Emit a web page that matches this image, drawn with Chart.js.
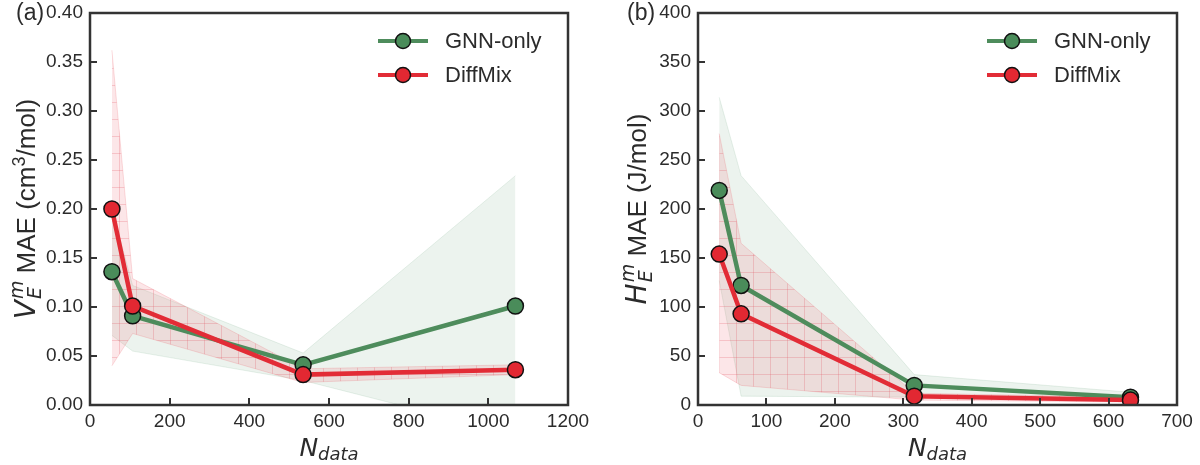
<!DOCTYPE html>
<html>
<head>
<meta charset="utf-8">
<script src="https://cdn.jsdelivr.net/npm/chart.js@4.4.1/dist/chart.umd.min.js"></script>
<style>
  html,body{margin:0;padding:0;background:#fff;}
  #wrap{position:relative;width:1200px;height:465px;}
  canvas{position:absolute;top:0;}
</style>
</head>
<body>
<div id="wrap">
  <canvas id="ca" width="600" height="465" style="left:0"></canvas>
  <canvas id="cb" width="600" height="465" style="left:600px"></canvas>
</div>
<script>
// ---------- Panel (a) data ----------
const xA      = [55, 107, 535, 1068];
const gnnA    = [0.136, 0.091, 0.041, 0.101];
const diffA   = [0.200, 0.101, 0.031, 0.036];
const gnnAHi  = [0.200, 0.122, 0.053, 0.234];
const gnnALo  = [0.071, 0.055, 0.025, -0.030];
const diffAHi = [0.362, 0.129, 0.037, 0.041];
const diffALo = [0.040, 0.073, 0.023, 0.031];

// ---------- Panel (b) data ----------
const xB      = [31, 63, 316, 632];
const gnnB    = [219, 122, 20, 8];
const diffB   = [154, 93, 9, 5];
const gnnBHi  = [314, 234, 31, 13];
const gnnBLo  = [127, 9, 8, 4];
const diffBHi = [277, 165, 12, 8];
const diffBLo = [33, 20, 5, 3];

const seriesNames = ['GNN-only', 'DiffMix'];
const panelLabels = ['(a)', '(b)'];

const GREEN = 'rgb(78,140,92)';
const GREEN_PT = 'rgb(74,140,90)';
const RED = 'rgb(226,44,54)';
const RED_PT = 'rgb(226,40,50)';
const TXT = '#2b2b2b';
const SANS = '"Liberation Sans", Arial, sans-serif';
const MATH = '"DejaVu Sans", sans-serif';

function pts(xs, ys){ return xs.map((x,i)=>({x:x, y:ys[i]})); }

function hatchPattern(ctx){
  const s = 17;
  const c = document.createElement('canvas'); c.width = s; c.height = s;
  const g = c.getContext('2d');
  g.fillStyle = 'rgba(238,90,100,0.15)';
  g.fillRect(0,0,s,s);
  g.strokeStyle = 'rgba(225,80,90,0.24)';
  g.lineWidth = 1;
  g.beginPath();
  g.moveTo(0,0.5); g.lineTo(s,0.5);
  g.moveTo(0.5,0); g.lineTo(0.5,s);
  g.stroke();
  return ctx.createPattern(c, 'repeat');
}

function drawRich(ctx, items, cx, cy, rot){
  ctx.save();
  ctx.translate(cx, cy);
  ctx.rotate(rot);
  ctx.textAlign = 'left';
  ctx.textBaseline = 'alphabetic';
  const widths = items.map(it=>{
    const parts = it.stack || [it];
    return Math.max(...parts.map(p=>{ ctx.font = p.f; return ctx.measureText(p.t).width; })) + (it.gap||0);
  });
  const total = widths.reduce((a,b)=>a+b,0);
  let x = -total/2;
  items.forEach((it,i)=>{
    const parts = it.stack || [it];
    parts.forEach(p=>{ ctx.font = p.f; ctx.fillStyle = TXT; ctx.fillText(p.t, x + (p.dx||0), p.dy||0); });
    x += widths[i];
  });
  ctx.restore();
}

function decorPlugin(cfg){
  return {
    id: 'decor',
    afterDraw(chart){
      const ctx = chart.ctx;
      const a = chart.chartArea;
      const xs = chart.scales.x, ys = chart.scales.y;
      ctx.save();
      // inward tick marks
      ctx.strokeStyle = '#333';
      ctx.lineWidth = 2;
      ctx.beginPath();
      xs.ticks.forEach(t=>{ const px = Math.round(xs.getPixelForValue(t.value)); ctx.moveTo(px, a.bottom); ctx.lineTo(px, a.bottom-7); });
      ys.ticks.forEach(t=>{ const py = Math.round(ys.getPixelForValue(t.value)); ctx.moveTo(a.left, py); ctx.lineTo(a.left+7, py); });
      ctx.stroke();
      // frame
      ctx.lineWidth = 2.5;
      ctx.strokeStyle = '#333';
      ctx.strokeRect(a.left, a.top, a.right-a.left, a.bottom-a.top);
      // panel label
      ctx.fillStyle = TXT;
      ctx.font = '23px ' + SANS;
      ctx.textAlign = 'left';
      ctx.textBaseline = 'middle';
      ctx.fillText(cfg.label, cfg.labelX, 14);
      // legend
      const items = [
        {name: seriesNames[0], line: GREEN, pt: GREEN_PT},
        {name: seriesNames[1], line: RED, pt: RED_PT}
      ];
      items.forEach((it,i)=>{
        const y = a.top + 28 + i*34;
        const x0 = a.right - 190;
        ctx.strokeStyle = it.line; ctx.lineWidth = 4; ctx.lineCap = 'butt';
        ctx.beginPath(); ctx.moveTo(x0, y); ctx.lineTo(x0+50, y); ctx.stroke();
        ctx.beginPath(); ctx.arc(x0+25, y, 7.5, 0, Math.PI*2);
        ctx.fillStyle = it.pt; ctx.fill();
        ctx.lineWidth = 1.5; ctx.strokeStyle = '#111'; ctx.stroke();
        ctx.fillStyle = TXT; ctx.font = '22px ' + SANS;
        ctx.textBaseline = 'middle';
        ctx.fillText(it.name, a.right - 123, y + 1);
      });
      ctx.restore();
      // axis titles
      drawRich(ctx, [
        {t:'N', f:'italic 25px ' + MATH},
        {t:'data', f:'italic 18px ' + MATH, dy: 4}
      ], (a.left + a.right)/2, 456, 0);
      drawRich(ctx, cfg.yTitle, cfg.yTitleX, (a.top + a.bottom)/2, -Math.PI/2);
    }
  };
}

function makeChart(id, d){
  const canvas = document.getElementById(id);
  const ctx = canvas.getContext('2d');
  const pat = hatchPattern(ctx);
  const lineDs = (label, xs, ys, col, ptcol) => ({
    label: label, data: pts(xs, ys),
    borderColor: col, borderWidth: 4.5,
    pointRadius: 8, pointBackgroundColor: ptcol,
    pointBorderColor: '#111', pointBorderWidth: 1.5,
    fill: false, tension: 0
  });
  const bandDs = (xs, ys, fill, bg, edge) => ({
    label: '', data: pts(xs, ys),
    borderColor: edge, borderWidth: 1, pointRadius: 0,
    backgroundColor: bg, fill: fill, tension: 0
  });
  return new Chart(ctx, {
    type: 'line',
    data: {
      datasets: [
        lineDs(seriesNames[1], d.x, d.diff, RED, RED_PT),
        lineDs(seriesNames[0], d.x, d.gnn, GREEN, GREEN_PT),
        bandDs(d.x, d.diffHi, '+1', pat, 'rgba(235,90,100,0.2)'),
        bandDs(d.x, d.diffLo, false, pat, 'rgba(235,90,100,0.2)'),
        bandDs(d.x, d.gnnHi, '+1', 'rgba(80,145,100,0.11)', 'rgba(80,145,100,0.13)'),
        bandDs(d.x, d.gnnLo, false, 'rgba(80,145,100,0.11)', 'rgba(80,145,100,0.13)')
      ]
    },
    options: {
      responsive: false,
      animation: false,
      devicePixelRatio: 1,
      layout: {padding: {left: 0, right: d.padRight, top: 13, bottom: 0}},
      plugins: {legend: {display: false}, tooltip: {enabled: false}},
      scales: {
        x: {
          type: 'linear', min: 0, max: d.xMax,
          grid: {display: false, drawTicks: false},
          border: {display: false},
          ticks: {stepSize: d.xStep, autoSkip: false, maxRotation: 0, padding: 5,
                  color: TXT, font: {family: SANS, size: 19},
                  callback: v => String(Math.round(v))},
          afterFit: s => { s.height = 60; s.paddingLeft = 0; s.paddingRight = 0; }
        },
        y: {
          type: 'linear', min: 0, max: d.yMax,
          grid: {display: false, drawTicks: false},
          border: {display: false},
          ticks: {stepSize: d.yStep, autoSkip: false, padding: 7,
                  color: TXT, font: {family: SANS, size: 19},
                  callback: v => d.fmt(v)},
          afterFit: s => { s.width = d.yWidth; s.paddingTop = 0; s.paddingBottom = 0; }
        }
      }
    },
    plugins: [decorPlugin(d)]
  });
}

makeChart('ca', {
  x: xA, gnn: gnnA, diff: diffA, gnnHi: gnnAHi, gnnLo: gnnALo, diffHi: diffAHi, diffLo: diffALo,
  xMax: 1200, xStep: 200, yMax: 0.4, yStep: 0.05, fmt: v => v.toFixed(2),
  padRight: 32, yWidth: 90,
  label: panelLabels[0], labelX: 16, yTitleX: 35,
  yTitle: [
    {t:'V', f:'italic 28px ' + MATH, gap: 1},
    {stack: [{t:'m', f:'italic 19px ' + MATH, dy: -12}, {t:'E', f:'italic 19px ' + MATH, dy: 6}]},
    {t:' MAE (cm', f:'26px ' + SANS},
    {t:'3', f:'18px ' + SANS, dy: -10},
    {t:'/mol)', f:'26px ' + SANS}
  ]
});

makeChart('cb', {
  x: xB, gnn: gnnB, diff: diffB, gnnHi: gnnBHi, gnnLo: gnnBLo, diffHi: diffBHi, diffLo: diffBLo,
  xMax: 700, xStep: 100, yMax: 400, yStep: 50, fmt: v => String(Math.round(v)),
  padRight: 23, yWidth: 98,
  label: panelLabels[1], labelX: 27, yTitleX: 46,
  yTitle: [
    {t:'H', f:'italic 28px ' + MATH, gap: 1},
    {stack: [{t:'m', f:'italic 19px ' + MATH, dy: -12}, {t:'E', f:'italic 19px ' + MATH, dy: 6}]},
    {t:' MAE (J/mol)', f:'26px ' + SANS}
  ]
});
</script>
</body>
</html>
